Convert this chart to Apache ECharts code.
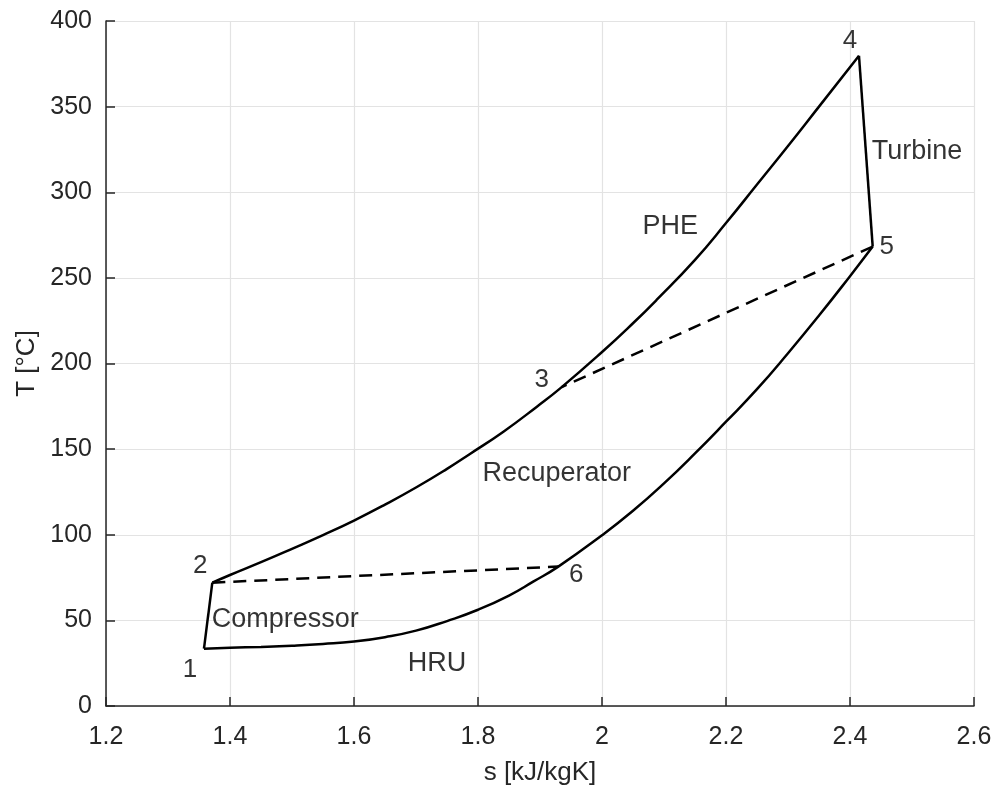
<!DOCTYPE html>
<html>
<head>
<meta charset="utf-8">
<script src="https://cdn.jsdelivr.net/npm/echarts@6/dist/echarts.min.js"></script>
<style>
  html, body { margin: 0; padding: 0; background: #fff; }
  #chart { width: 996px; height: 792px; }
</style>
</head>
<body>
<div id="chart"></div>
<script>
// T-s diagram of a recuperated cycle: entropy s [kJ/kgK] vs temperature T [°C]

// High-pressure heating line, state 2 -> 3 -> 4
const hpS = [1.3715, 1.40, 1.45, 1.50, 1.55, 1.60, 1.65, 1.70, 1.75, 1.787, 1.841, 1.895, 1.935, 2.001, 2.05, 2.088, 2.15, 2.20, 2.25, 2.30, 2.35, 2.4145];
const hpT = [72, 76.5, 84, 91.8, 99.8, 108.3, 117.6, 127.6, 138.5, 147.2, 160.2, 174.8, 186.2, 207, 223.5, 237.1, 260.5, 282, 304.5, 327, 350, 379.7];

// Low-pressure cooling line, state 5 -> 6 -> 1
const lpS = [2.4366, 2.40, 2.35, 2.30, 2.25, 2.20, 2.15, 2.10, 2.05, 2.00, 1.9295, 1.889, 1.85, 1.80, 1.75, 1.70, 1.65, 1.60, 1.55, 1.50, 1.45, 1.40, 1.358];
const lpT = [268.3, 251, 228, 206, 185, 166, 147.5, 130, 114, 99.7, 81.4, 72.6, 64.5, 56.2, 49.6, 44, 40.2, 37.6, 36.2, 35.2, 34.5, 34, 33.5];

// Cycle state points 1..6
const stateNames = ['1', '2', '3', '4', '5', '6'];
const stateS = [1.358, 1.3715, 1.935, 2.4145, 2.4366, 1.9295];
const stateT = [33.5, 72, 186.2, 379.7, 268.3, 81.4];

// Component annotations placed in data coordinates
const noteNames = ['Compressor', 'HRU', 'Recuperator', 'PHE', 'Turbine'];
const noteS = [1.489, 1.734, 1.927, 2.110, 2.508];
const noteT = [50.2, 24.5, 136, 280, 323.6];

// Axis ticks
const xTicks = [1.2, 1.4, 1.6, 1.8, 2.0, 2.2, 2.4, 2.6];
const yTicks = [0, 50, 100, 150, 200, 250, 300, 350, 400];

const pairs = (a, b) => a.map((v, i) => [v, b[i]]);
const st = i => [stateS[i], stateT[i]];

const FONT = 'Liberation Sans, Arial, sans-serif';
const TXT = '#262626';
const lineSolid = { color: '#000', width: 2.5 };
const lineDash = { color: '#000', width: 2.5, type: [13, 8] };

// Per-label offsets for the state numbers (pixels)
const stateOffsets = [[-14, 21], [-12, -17], [-20, -7], [-9, -15], [14, 0], [18, 8]];

const chart = echarts.init(document.getElementById('chart'), null, { renderer: 'canvas' });

chart.setOption({
  animation: false,
  backgroundColor: '#fff',
  grid: { left: 106, right: 22, top: 21, bottom: 86, containLabel: false },
  xAxis: {
    type: 'value',
    min: xTicks[0], max: xTicks[xTicks.length - 1], interval: 0.2,
    name: 's [kJ/kgK]', nameLocation: 'middle', nameGap: 54,
    nameTextStyle: { fontFamily: FONT, fontSize: 26, color: TXT },
    axisLine: { show: true, lineStyle: { color: TXT, width: 1.5 } },
    axisTick: { show: true, inside: true, length: 9, lineStyle: { color: TXT, width: 1.5 } },
    axisLabel: {
      fontFamily: FONT, fontSize: 25, color: TXT, margin: 19,
      formatter: v => String(Math.round(v * 10) / 10)
    },
    splitLine: { show: true, lineStyle: { color: '#e3e3e3', width: 1.2 } }
  },
  yAxis: {
    type: 'value',
    min: yTicks[0], max: yTicks[yTicks.length - 1], interval: 50,
    name: 'T [°C]', nameLocation: 'middle', nameGap: 66, nameRotate: 90,
    nameTextStyle: { fontFamily: FONT, fontSize: 26, color: TXT },
    axisLine: { show: true, lineStyle: { color: TXT, width: 1.5 } },
    axisTick: { show: true, inside: true, length: 9, lineStyle: { color: TXT, width: 1.5 } },
    axisLabel: { fontFamily: FONT, fontSize: 25, color: TXT, margin: 14 },
    splitLine: { show: true, lineStyle: { color: '#e3e3e3', width: 1.2 } }
  },
  series: [
    {
      name: 'heating', type: 'line', data: pairs(hpS, hpT),
      smooth: 0.5, showSymbol: false, lineStyle: lineSolid, z: 3
    },
    {
      name: 'cooling', type: 'line', data: pairs(lpS, lpT),
      smooth: 0.5, showSymbol: false, lineStyle: lineSolid, z: 3
    },
    {
      name: 'turbine', type: 'line', data: [st(3), st(4)],
      showSymbol: false, lineStyle: lineSolid, z: 3
    },
    {
      name: 'compressor', type: 'line', data: [st(0), st(1)],
      showSymbol: false, lineStyle: lineSolid, z: 3
    },
    {
      name: 'recup cold', type: 'line', data: [st(1), st(5)],
      showSymbol: false, lineStyle: lineDash, z: 3
    },
    {
      name: 'recup hot', type: 'line', data: [st(4), st(2)],
      showSymbol: false, lineStyle: lineDash, z: 3
    },
    {
      name: 'states', type: 'scatter', symbolSize: 0, z: 4,
      data: stateNames.map((n, i) => ({
        name: n, value: st(i),
        label: { offset: stateOffsets[i] }
      })),
      label: {
        show: true, position: 'inside', formatter: p => p.name,
        fontFamily: FONT, fontSize: 26, color: '#000'
      }
    },
    {
      name: 'notes', type: 'scatter', symbolSize: 0, z: 4,
      data: noteNames.map((n, i) => ({ name: n, value: [noteS[i], noteT[i]] })),
      label: {
        show: true, position: 'inside', formatter: p => p.name,
        fontFamily: FONT, fontSize: 27, color: '#000'
      }
    }
  ]
});
</script>
</body>
</html>
